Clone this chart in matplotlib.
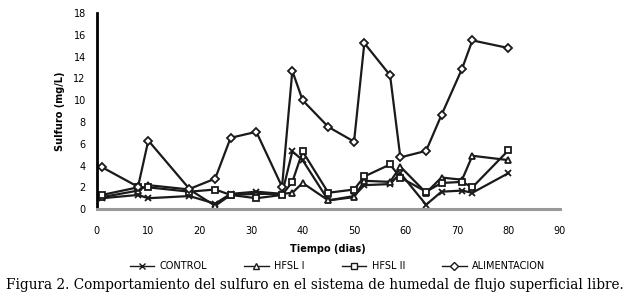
import matplotlib
matplotlib.use("Agg")
import matplotlib.pyplot as plt

# Días de muestreo
dias = [1, 8, 10, 18, 23, 26, 31, 36, 38, 40, 45, 50, 52, 57, 59, 64, 67, 71, 73, 80]

# Sulfuro (mg/L) por serie
control = [1.0, 1.3, 1.0, 1.2, 0.5, 1.4, 1.6, 1.4, 5.3, 4.5, 0.8, 1.2, 2.2, 2.3, 3.3,
           0.4, 1.6, 1.7, 1.5, 3.3]
hfsl_1 = [1.1, 1.7, 2.2, 1.8, 0.3, 1.3, 1.4, 1.4, 1.5, 2.4, 0.8, 1.1, 2.6, 2.5, 3.9,
          1.5, 2.9, 2.7, 4.9, 4.5]
hfsl_2 = [1.3, 2.0, 2.0, 1.6, 1.8, 1.3, 1.0, 1.3, 2.5, 5.3, 1.5, 1.8, 3.0, 4.1, 2.9,
          1.6, 2.4, 2.5, 2.0, 5.4]
alimentacion = [3.85, 2.05, 6.3, 1.85, 2.8, 6.55, 7.1, 2.05, 12.7, 10.0, 7.55, 6.2, 15.25,
                12.3, 4.75, 5.35, 8.65, 12.9, 15.5, 14.8]

series = [
    ("CONTROL", control, "x"),
    ("HFSL I", hfsl_1, "^"),
    ("HFSL II", hfsl_2, "s"),
    ("ALIMENTACION", alimentacion, "D"),
]

fig = plt.figure(figsize=(6.29, 3.0), dpi=100)
ax = fig.add_axes([0.154, 0.303, 0.736, 0.653])

for name, vals, mk in series:
    ax.plot(dias, vals, color="#1a1a1a", lw=1.6, marker=mk, ms=4.5,
            mfc="white", mec="#1a1a1a", mew=1.3, label=name)

ax.set_xlim(0, 90)
ax.set_ylim(0, 18)
ax.set_xticks(range(0, 91, 10))
ax.set_yticks(range(0, 19, 2))

for s in ("top", "right"):
    ax.spines[s].set_visible(False)
ax.spines["left"].set_color("black")
ax.spines["left"].set_linewidth(2)
ax.spines["bottom"].set_color("#999999")
ax.spines["bottom"].set_linewidth(2.2)
ax.tick_params(length=0, labelsize=7, pad=8)
ax.tick_params(axis="x", pad=12)

ax.set_xlabel("Tiempo (dias)", fontsize=7, fontweight="bold", labelpad=6)
ax.set_ylabel("Sulfuro (mg/L)", fontsize=7, fontweight="bold", labelpad=6)

leg = ax.legend(loc="center", bbox_to_anchor=(0.52, -0.29), ncol=4, frameon=False,
                fontsize=7, handlelength=2.5, columnspacing=3.8, handletextpad=0.6)
for line in leg.get_lines():
    line.set_linewidth(1.0)
    line.set_markersize(4)
    line.set_markeredgewidth(1.0)

fig.text(0.5, 0.05, "Figura 2. Comportamiento del sulfuro en el sistema de humedal "
         "de flujo superficial libre.", ha="center", va="center",
         family="DejaVu Serif", fontsize=9.8)

fig.savefig("out.png", dpi=100)
